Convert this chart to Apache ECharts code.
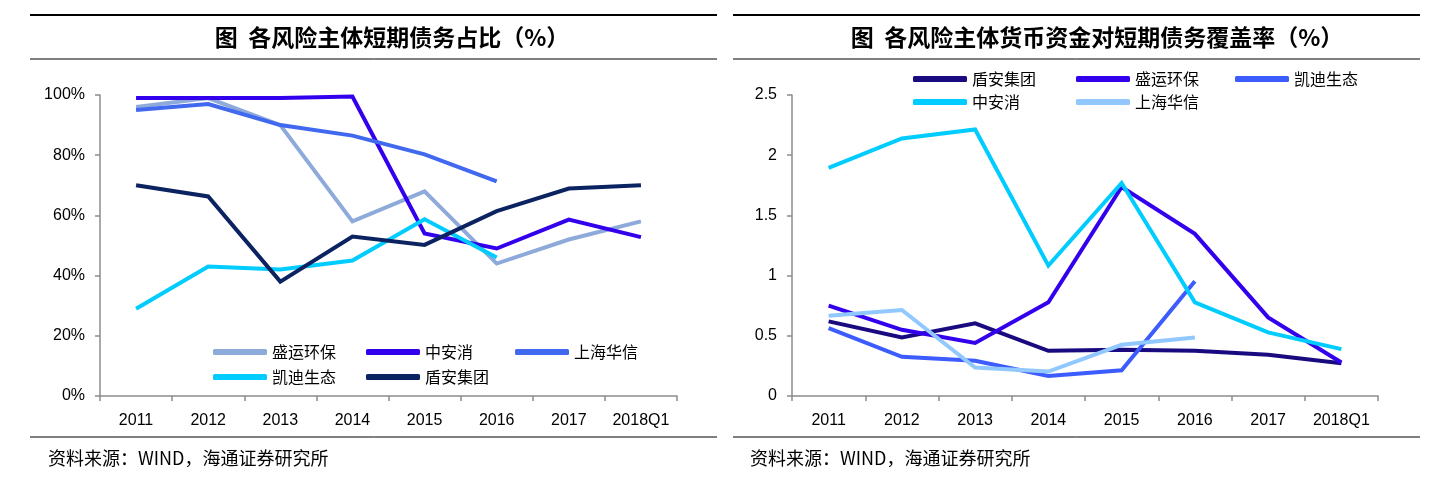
<!DOCTYPE html>
<html>
<head>
<meta charset="utf-8">
<title>风险主体短期债务</title>
<script src="https://cdn.jsdelivr.net/npm/echarts@6/dist/echarts.min.js"></script>
<style>
	html, body { margin: 0; padding: 0; background: #fff; }
	#chart { width: 1434px; height: 484px; }
</style>
</head>
<body>
<div id="chart"></div>
<script>
var years = ['2011', '2012', '2013', '2014', '2015', '2016', '2017', '2018Q1'];

// 左图：短期债务占比（%）
var ratioNames = ['盛运环保', '中安消', '上海华信', '凯迪生态', '盾安集团'];
var ratioShengyun = [96, 99, 90, 58, 68, 44, 52, 58];
var ratioZhonganxiao = [99, 99, 99, 99.5, 54, 49, 58.6, 52.8];
var ratioHuaxin = [95, 97, 90, 86.5, 80.3, 71.3, null, null];
var ratioKaidi = [29, 43, 42, 45, 58.7, 46, null, null];
var ratioDunan = [70, 66.3, 38, 53, 50.2, 61.4, 68.9, 70];
var ratioTicks = [0, 20, 40, 60, 80, 100];

// 右图：货币资金对短期债务覆盖率
var coverNames = ['盾安集团', '盛运环保', '凯迪生态', '中安消', '上海华信'];
var coverDunan = [0.62, 0.486, 0.603, 0.375, 0.385, 0.375, 0.342, 0.272];
var coverShengyun = [0.75, 0.55, 0.44, 0.778, 1.736, 1.347, 0.653, 0.278];
var coverKaidi = [0.564, 0.325, 0.292, 0.167, 0.214, 0.953, null, null];
var coverZhonganxiao = [1.894, 2.139, 2.214, 1.083, 1.769, 0.778, 0.528, 0.389];
var coverHuaxin = [0.667, 0.714, 0.236, 0.203, 0.425, 0.486, null, null];
var coverTicks = [0, 0.5, 1, 1.5, 2, 2.5];

var leftColors = ['#8eaadb', '#3300ee', '#4169f0', '#00ccff', '#0b2360'];
var rightColors = ['#1a0a80', '#3300ee', '#3d5cfe', '#00ccff', '#90c8ff'];

var cnFont = '"Noto Sans CJK SC", sans-serif';
var numFont = '"Liberation Sans", Arial, sans-serif';

function makeLine(name, data, color, idx) {
	return {
		name: name,
		type: 'line',
		xAxisIndex: idx,
		yAxisIndex: idx,
		data: data,
		symbol: 'none',
		smooth: false,
		connectNulls: false,
		lineStyle: { width: 4, color: color, join: 'miter' },
		itemStyle: { color: color },
		emphasis: { disabled: true }
	};
}

// 两图里有同名系列，图例颜色要单独给
function makeLegend(name, color, x, y) {
	return {
		data: [{ name: name, itemStyle: { color: color } }],
		left: x,
		top: y,
		icon: 'roundRect',
		itemWidth: 54,
		itemHeight: 6,
		itemGap: 0,
		padding: 0,
		selectedMode: false,
		textStyle: { fontFamily: cnFont, fontSize: 16, color: '#000' }
	};
}

function makeXAxis(idx) {
	return {
		type: 'category',
		gridIndex: idx,
		data: years,
		boundaryGap: true,
		axisLine: { lineStyle: { color: '#8c8c8c', width: 1.5 } },
		axisTick: { show: true, interval: 0, length: 5, lineStyle: { color: '#8c8c8c', width: 1.5 } },
		axisLabel: { interval: 0, color: '#000', fontFamily: numFont, fontSize: 16, margin: 17 },
		splitLine: { show: false }
	};
}

function makeYAxis(idx, ticks, fmt) {
	return {
		type: 'value',
		gridIndex: idx,
		min: ticks[0],
		max: ticks[ticks.length - 1],
		interval: ticks[1] - ticks[0],
		axisLine: { show: true, lineStyle: { color: '#8c8c8c', width: 1.5 } },
		axisTick: { show: true, length: 5, lineStyle: { color: '#8c8c8c', width: 1.5 } },
		axisLabel: { color: '#000', fontFamily: numFont, fontSize: 16, margin: 15, formatter: fmt },
		splitLine: { show: false }
	};
}

function rule(x1, x2, y, w) {
	return {
		type: 'line',
		shape: { x1: x1, y1: y, x2: x2, y2: y },
		style: { stroke: '#000', lineWidth: w }
	};
}

function label(txt, x, y, size, bold, align) {
	return {
		type: 'text',
		x: x,
		y: y,
		style: {
			text: txt,
			fontFamily: cnFont,
			fontSize: size,
			fontWeight: bold ? 'bold' : 'normal',
			fill: '#000',
			align: align,
			verticalAlign: 'middle'
		}
	};
}

var chart = echarts.init(document.getElementById('chart'));

var leftData = [ratioShengyun, ratioZhonganxiao, ratioHuaxin, ratioKaidi, ratioDunan];
var rightData = [coverDunan, coverShengyun, coverKaidi, coverZhonganxiao, coverHuaxin];

var series = [];
var legends = [];
var leftCols = [213, 366, 515];
var rightCols = [913, 1076, 1235];
for (var i = 0; i < 5; i++) {
	series.push(makeLine(ratioNames[i], leftData[i], leftColors[i], 0));
	legends.push(makeLegend(ratioNames[i], leftColors[i], leftCols[i % 3], i < 3 ? 344 : 369));
}
for (var j = 0; j < 5; j++) {
	series.push(makeLine(coverNames[j], rightData[j], rightColors[j], 1));
	legends.push(makeLegend(coverNames[j], rightColors[j], rightCols[j % 3], j < 3 ? 71 : 94));
}

chart.setOption({
	animation: false,
	grid: [
		{ left: 100, top: 95, width: 577, height: 301 },
		{ left: 792, top: 95, width: 586, height: 301 }
	],
	xAxis: [makeXAxis(0), makeXAxis(1)],
	yAxis: [
		makeYAxis(0, ratioTicks, '{value}%'),
		makeYAxis(1, coverTicks, null)
	],
	legend: legends,
	series: series,
	graphic: [
		rule(30, 717, 15, 2),
		rule(30, 717, 59, 1),
		rule(30, 717, 437, 1),
		rule(733, 1420, 15, 2),
		rule(733, 1420, 59, 1),
		rule(733, 1420, 437, 1),
		label('图  各风险主体短期债务占比（%）', 392, 37, 23, true, 'center'),
		label('图  各风险主体货币资金对短期债务覆盖率（%）', 1097, 37, 23, true, 'center'),
		label('资料来源：WIND，海通证券研究所', 48, 458, 18, false, 'left'),
		label('资料来源：WIND，海通证券研究所', 750, 458, 18, false, 'left')
	]
});
</script>
</body>
</html>
